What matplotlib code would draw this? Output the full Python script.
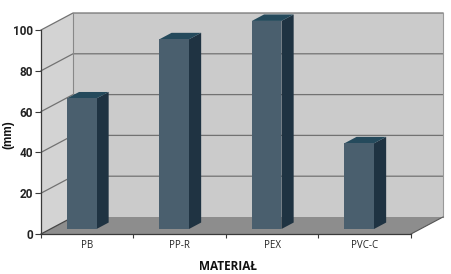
import matplotlib
matplotlib.use("Agg")
import matplotlib.pyplot as plt
from matplotlib.patches import Polygon

categories = ["PB", "PP-R", "PEX", "PVC-C"]
values = [64, 93, 102, 42]
yticks = [0, 20, 40, 60, 80, 100]
ylabel = "(mm)"
xlabel = "MATERIAŁ"

W, H = 452, 274
fig = plt.figure(figsize=(W / 100, H / 100), dpi=100)
fig.patch.set_facecolor("white")
ax = fig.add_axes([41 / W, 40 / H, 370 / W, 204 / H])
ax.set_xlim(0, len(categories))
ax.set_ylim(0, 100)
ax.patch.set_alpha(0)

# depth projection (data units)
DX = 32 / 92.5
DY = 17 / 2.04
n = len(categories)

wall_c = "#cbcbcb"
side_wall_c = "#d3d3d3"
floor_c = "#8d8d8d"
grid_c = "#727272"

# floor
ax.add_patch(Polygon([(0, 0), (n, 0), (n + DX, DY), (DX, DY)], closed=True,
                     facecolor=floor_c, edgecolor="none", clip_on=False, zorder=1))
# back wall
ax.add_patch(Polygon([(DX, DY), (n + DX, DY), (n + DX, 100 + DY), (DX, 100 + DY)], closed=True,
                     facecolor=wall_c, edgecolor="none", clip_on=False, zorder=1))
# left wall
ax.add_patch(Polygon([(0, 0), (DX, DY), (DX, 100 + DY), (0, 100)], closed=True,
                     facecolor=side_wall_c, edgecolor="none", clip_on=False, zorder=1))

# gridlines
for v in yticks[1:]:
    ax.plot([0, DX, n + DX], [v, v + DY, v + DY], color=grid_c, lw=0.9,
            clip_on=False, zorder=2)
# base diagonal on left wall
ax.plot([0, DX], [0, DY], color="#444444", lw=0.9, clip_on=False, zorder=2)
# wall edges
ax.plot([DX, DX], [DY, 100 + DY], color="#888888", lw=0.8, clip_on=False, zorder=2)
ax.plot([n + DX, n + DX], [DY, 100 + DY], color="#999999", lw=0.8, clip_on=False, zorder=2)
ax.plot([n, n + DX], [0, DY], color="#555555", lw=0.8, clip_on=False, zorder=2)

# bars
front_c = "#4a5f6e"
side_c = "#1f3342"
top_c = "#254a5c"
frac0 = 5 / 17
base_y = frac0 * DY
bw = 0.32
ddx = 0.38 * DX
ddy = 0.38 * DY
for i, v in enumerate(values):
    x0 = i + 0.28
    x1 = x0 + bw
    yb = base_y
    yt = base_y + v
    ax.add_patch(Polygon([(x1, yb), (x1 + ddx, yb + ddy), (x1 + ddx, yt + ddy), (x1, yt)],
                         closed=True, facecolor=side_c, edgecolor="none", clip_on=False, zorder=3))
    ax.add_patch(Polygon([(x0, yt), (x1, yt), (x1 + ddx, yt + ddy), (x0 + ddx, yt + ddy)],
                         closed=True, facecolor=top_c, edgecolor="none", clip_on=False, zorder=3))
    ax.add_patch(Polygon([(x0, yb), (x1, yb), (x1, yt), (x0, yt)],
                         closed=True, facecolor=front_c, edgecolor="none", clip_on=False, zorder=3))

# axes spines
for s in ["top", "right"]:
    ax.spines[s].set_visible(False)
for s in ["left", "bottom"]:
    ax.spines[s].set_color("#3a3a3a")
    ax.spines[s].set_linewidth(0.9)
    ax.spines[s].set_zorder(4)

narrow = ["Liberation Sans Narrow", "DejaVu Sans Condensed", "Roboto", "DejaVu Sans"]
ax.set_yticks(yticks)
ax.set_yticklabels([str(t) for t in yticks], fontfamily=narrow, fontweight="bold",
                   fontsize=8.5, color="#222222")
ax.tick_params(axis="y", length=4.5, width=0.8, color="#3a3a3a", pad=1.5)

ax.set_xticks(range(n + 1))
ax.set_xticklabels([""] * (n + 1))
ax.tick_params(axis="x", which="major", length=3, width=0.8, color="#3a3a3a")
ax.set_xticks([i + 0.5 for i in range(n)], minor=True)
ax.set_xticklabels(categories, minor=True, fontfamily=["Open Sans", "DejaVu Sans"],
                   fontsize=7, color="#222222")
ax.tick_params(axis="x", which="minor", length=0, pad=4.5)

fig.text(8 / W, 1 - 135 / H, ylabel, rotation=90, ha="center", va="center",
         fontweight="bold", fontsize=8.5, fontfamily=["Liberation Sans", "DejaVu Sans"],
         color="#111111")
fig.text(228 / W, 1 - 266.5 / H, xlabel, ha="center", va="center",
         fontweight="bold", fontsize=8.5, fontfamily=["Open Sans", "DejaVu Sans"],
         color="#111111")

fig.savefig("out.png", dpi=100)
